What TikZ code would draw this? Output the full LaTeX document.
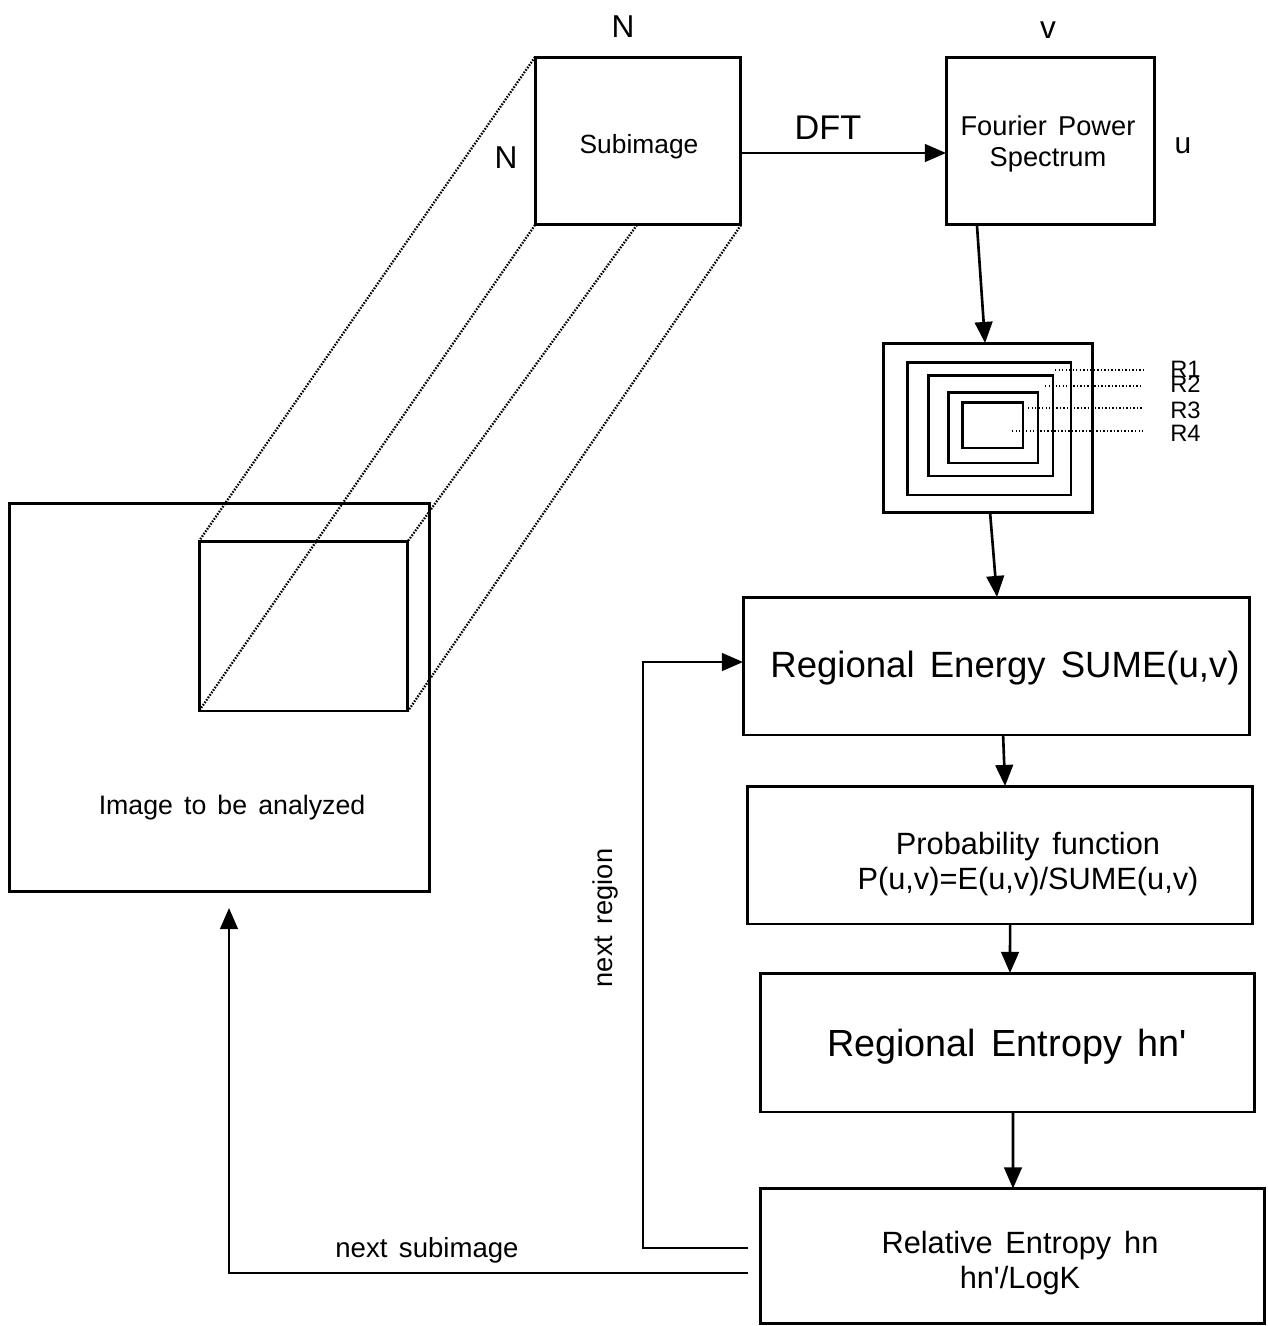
\documentclass[tikz,border=0pt]{standalone}
\usepackage{fontspec}
\setmainfont{Liberation Sans}[WordSpace=1.5]
\usetikzlibrary{arrows.meta,calc}
\begin{document}
\begin{tikzpicture}[x=0.02cm,y=-0.02cm,
  box/.style={draw, line width=1.7pt, inner sep=0pt, outer sep=0pt, align=center},
  ring/.style={draw, line width=1.7pt, inner sep=0pt, outer sep=0pt},
  arr/.style={line width=1.5pt, -{Triangle[length=12pt,width=10pt]}},
  persp/.style={line width=1.3pt, dash pattern=on 0.9pt off 0.8pt},
  lead/.style={line width=1pt, dash pattern=on 0.8pt off 1.2pt},
  lbl/.style={inner sep=0pt, align=center}]
\useasboundingbox (0,0) rectangle (1268,1326);

% boxes
\node[box, minimum width=4.12cm, minimum height=3.36cm] (sub) at (638,141) {};
\node[lbl, font=\fontsize{15}{18}\selectfont] (subtxt) at (639,147) {Subimage};
\node[box, minimum width=4.18cm, minimum height=3.36cm] (fps) at (1050.5,141) {};
\node[lbl, font=\fontsize{15.5}{18}\selectfont] (fpstxt) at (1048,144) {Fourier Power\\Spectrum};
\node[ring, minimum width=4.2cm, minimum height=3.4cm] (rings) at (988,428) {};
\node[ring, minimum width=3.28cm, minimum height=2.66cm] (r1) at (989,428.5) {};
\node[ring, minimum width=2.5cm, minimum height=2.02cm] (r2) at (990.5,425.5) {};
\node[ring, minimum width=1.8cm, minimum height=1.42cm] (r3) at (993,427.5) {};
\node[ring, minimum width=1.22cm, minimum height=0.92cm] (r4) at (992.5,425) {};
\node[box, minimum width=10.14cm, minimum height=2.76cm] (energy) at (996.5,666) {};
\node[lbl, font=\fontsize{20.8}{24}\selectfont] (energytxt) at (1005,668) {Regional Energy SUME(u,v)};
\node[box, minimum width=10.12cm, minimum height=2.76cm] (prob) at (1000,855) {};
\node[lbl, font=\fontsize{17.5}{19.8}\selectfont] (probtxt) at (1028,864) {Probability function\\P(u,v)=E(u,v)/SUME(u,v)};
\node[box, minimum width=9.9cm, minimum height=2.78cm] (entropy) at (1007.5,1042.5) {};
\node[lbl, font=\fontsize{21.5}{24}\selectfont] (entropytxt) at (1007,1047) {Regional Entropy hn\textquotesingle};
\node[box, minimum width=10.1cm, minimum height=2.7cm] (rel) at (1012.5,1256) {};
\node[lbl, font=\fontsize{17.5}{19.5}\selectfont] (reltxt) at (1020,1263) {Relative Entropy hn\\hn\textquotesingle/LogK};
\node[box, minimum width=8.42cm, minimum height=7.78cm] (img) at (219.5,697.5) {};
\node[lbl, font=\fontsize{15.2}{18}\selectfont] (imgtxt) at (232,808) {Image to be analyzed};
\node[ring, minimum width=4.18cm, minimum height=3.4cm] (inner) at (303.5,626) {};

% perspective lines
\draw[persp] (sub.north west) -- (inner.north west);
\draw[persp] (sub.south west) -- (inner.south west);
\draw[persp] ($(sub.south west)!0.495!(sub.south east)$) -- (inner.north east);
\draw[persp] (sub.south east) -- (inner.south east);

% labels
\node[lbl, font=\fontsize{18}{20}\selectfont] (ntop) at (623,27) {N};
\node[lbl, font=\fontsize{18}{20}\selectfont] (nleft) at (506,158) {N};
\node[lbl, font=\fontsize{18}{20}\selectfont] (vlab) at (1048,30) {v};
\node[lbl, font=\fontsize{17}{20}\selectfont] (ulab) at (1183,146) {u};
\node[lbl, font=\fontsize{19.5}{22}\selectfont] (dft) at (828,128) {DFT};

% ring labels
\node[lbl, anchor=west, font=\fontsize{13.5}{15}\selectfont] (l1) at (1170,369) {R1};
\node[lbl, anchor=west, font=\fontsize{13.5}{15}\selectfont] (l2) at (1170,384) {R2};
\node[lbl, anchor=west, font=\fontsize{13.5}{15}\selectfont] (l3) at (1170,410) {R3};
\node[lbl, anchor=west, font=\fontsize{13.5}{15}\selectfont] (l4) at (1170,433) {R4};
\coordinate (p1) at (1055,370);
\coordinate (p2) at (1045,386);
\coordinate (p3) at (1028,408);
\coordinate (p4) at (1012,431);
\draw[lead] (p1) -- ($(l1.west |- p1)+(-27,0)$);
\draw[lead] (p2) -- ($(l2.west |- p2)+(-27,0)$);
\draw[lead] (p3) -- ($(l3.west |- p3)+(-27,0)$);
\draw[lead] (p4) -- ($(l4.west |- p4)+(-27,0)$);

% arrows
\draw[arr] (sub.east |- 0,153) -- (fps.west |- 0,153);
\draw[arr] ($(fps.south west)!0.148!(fps.south east)$) -- ($(rings.north west)!0.486!(rings.north east)$);
\draw[arr] ($(rings.south west)!0.51!(rings.south east)$) -- ($(energy.north west)!0.501!(energy.north east)$);
\draw[arr] ($(energy.south west)!0.513!(energy.south east)$) -- ($(prob.north west)!0.51!(prob.north east)$);
\draw[arr] ($(prob.south west)!0.52!(prob.south east)$) -- ($(entropy.north west)!0.505!(entropy.north east)$);
\draw[arr] ($(entropy.south west)!0.511!(entropy.south east)$) -- ($(rel.north west)!0.501!(rel.north east)$);

% loops
\draw[arr] ($(rel.west)+(-12,-8)$) -- ++(-105,0) |- ($(energy.west)+(0,-4)$);
\draw[arr] ($(rel.west)+(-12,17)$) -| ($(img.south)+(9.5,16)$);
\node[lbl, rotate=90, font=\fontsize{15.5}{18}\selectfont] (nreg) at (605,918) {next region};
\node[lbl, font=\fontsize{15.7}{18}\selectfont] (nsub) at (427,1250) {next subimage};
\end{tikzpicture}
\end{document}
